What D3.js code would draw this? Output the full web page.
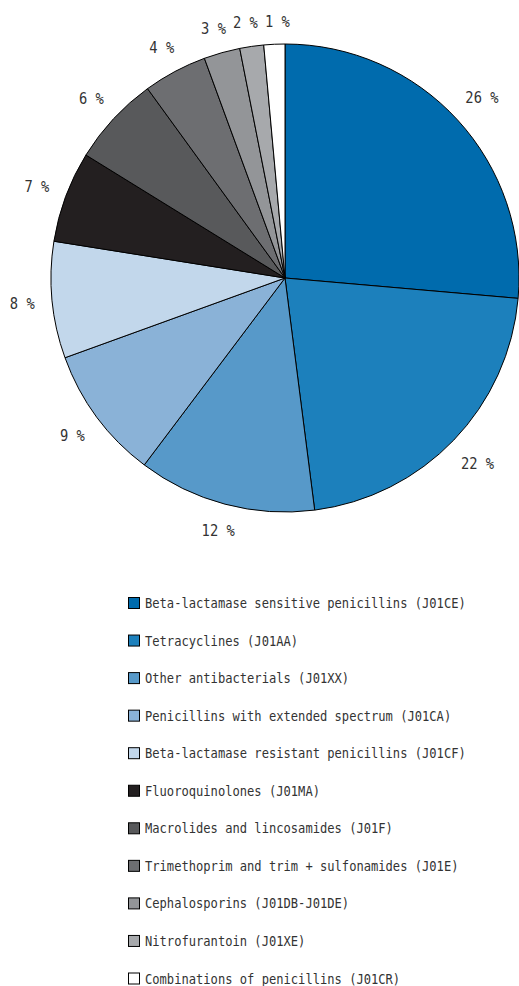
<!DOCTYPE html>
<html><head><meta charset="utf-8">
<script src="https://cdn.jsdelivr.net/npm/d3@7"></script>
<style>
html,body{margin:0;padding:0;background:#fff;}
svg{display:block;}
text{font-family:"DejaVu Sans Mono","Liberation Mono",monospace;fill:#333;}
</style></head>
<body>
<svg id="chart" width="519" height="986"></svg>
<script>
const categories = [
  "Beta-lactamase sensitive penicillins (J01CE)",
  "Tetracyclines (J01AA)",
  "Other antibacterials (J01XX)",
  "Penicillins with extended spectrum (J01CA)",
  "Beta-lactamase resistant penicillins (J01CF)",
  "Fluoroquinolones (J01MA)",
  "Macrolides and lincosamides (J01F)",
  "Trimethoprim and trim + sulfonamides (J01E)",
  "Cephalosporins (J01DB-J01DE)",
  "Nitrofurantoin (J01XE)",
  "Combinations of penicillins (J01CR)"
];
const values = [26.4, 21.6, 12.3, 9.2, 8.05, 6.3, 6.2, 4.4, 2.5, 1.65, 1.45];
const valueLabels = ["26 %", "22 %", "12 %", "9 %", "8 %", "7 %", "6 %", "4 %", "3 %", "2 %", "1 %"];
const colors = ["#006bad", "#1c80bc", "#5799c9", "#8ab2d7", "#c2d7eb", "#231f20", "#58595b", "#6d6e71", "#939598", "#a7a9ac", "#ffffff"];

const svg = d3.select("#chart");
const cx = 285, cy = 278, R = 234, labelBase = 251, labelGap = 7;
const lblFs = 16, lblCharW = 8.3, lblCapH = 11.5;
const legFs = 14, legCharW = 7.3;
const monoW = 0.602; // advance width of the mono font, in em
const lblSx = lblCharW / (monoW * lblFs);
const legSx = legCharW / (monoW * legFs);

const color = d3.scaleOrdinal().domain(categories).range(colors);
const pie = d3.pie().sort(null).value(d => d.value);
const data = categories.map((c, i) => ({cat: c, value: values[i], label: valueLabels[i]}));
const arcs = pie(data);
const arc = d3.arc().innerRadius(0).outerRadius(R);

const g = svg.append("g").attr("transform", `translate(${cx},${cy})`);
g.selectAll("path").data(arcs).enter().append("path")
  .attr("d", arc)
  .attr("fill", d => color(d.data.cat))
  .attr("stroke", "#000")
  .attr("stroke-width", 1)
  .attr("stroke-linejoin", "round");

// label boxes placed just outside the pie, then relaxed so neighbours keep a small gap
const boxes = arcs.map(d => {
  const a = (d.startAngle + d.endAngle) / 2;
  const s = Math.sin(a), c = -Math.cos(a);
  const w = d.data.label.length * lblCharW, h = lblCapH;
  const r = labelBase + (w / 2) * Math.abs(s) + (h / 2) * Math.abs(c);
  return {x: r * s, y: r * c, w, h};
});
for (let it = 0; it < 30; it++) {
  for (let i = 0; i < boxes.length; i++) {
    for (let j = i + 1; j < boxes.length; j++) {
      const A = boxes[i], B = boxes[j];
      if (Math.abs(A.y - B.y) >= (A.h + B.h) / 2) continue;
      const need = (A.w + B.w) / 2 + labelGap;
      const dx = B.x - A.x;
      if (Math.abs(dx) < need) {
        const push = (need - Math.abs(dx)) / 2 * (dx >= 0 ? 1 : -1);
        A.x -= push; B.x += push;
      }
    }
  }
}
arcs.forEach((d, i) => d.box = boxes[i]);

g.selectAll("text.lbl").data(arcs).enter().append("text")
  .attr("class", "lbl")
  .attr("transform", d => `translate(${d.box.x},${d.box.y}) scale(${lblSx},1)`)
  .attr("y", lblCapH / 2)
  .attr("text-anchor", "middle")
  .style("font-size", lblFs + "px")
  .text(d => d.data.label);

// legend
const legendY = d3.scalePoint().domain(categories).range([603, 978.5]);
const lg = svg.append("g");
const rows = lg.selectAll("g").data(categories).enter().append("g")
  .attr("transform", d => `translate(128,${legendY(d)})`);
rows.append("rect")
  .attr("x", 0.5).attr("y", -5.5).attr("width", 11).attr("height", 11)
  .attr("fill", d => color(d))
  .attr("stroke", "#000").attr("stroke-width", 1);
rows.append("text")
  .attr("transform", `translate(17,5) scale(${legSx},1)`)
  .style("font-size", legFs + "px")
  .text(d => d);
</script>
</body></html>
